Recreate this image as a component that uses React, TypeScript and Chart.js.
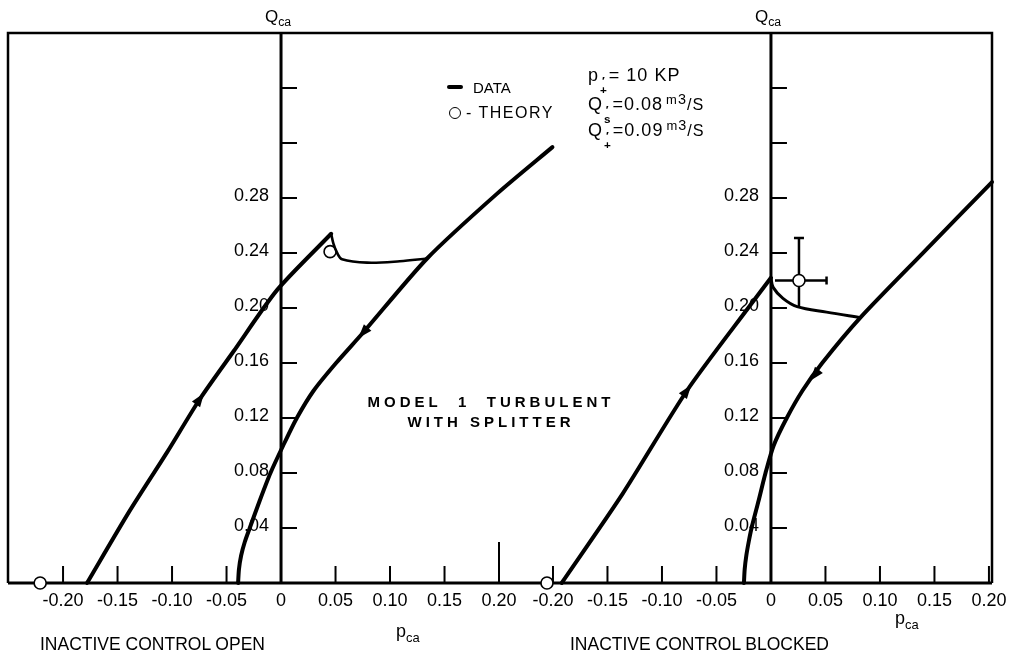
import React, { useEffect, useRef } from "react";
import { Chart, registerables } from "chart.js";

Chart.register(...registerables);

// ---------- Left panel: INACTIVE CONTROL OPEN ----------
const openUpP = [-0.178, -0.14, -0.1046, -0.0743, -0.044, -0.0037, 0.046];
const openUpQ = [0, 0.051, 0.095, 0.134, 0.168, 0.213, 0.254];
const openHookP = [0.046, 0.048, 0.0515, 0.056, 0.079, 0.109, 0.134];
const openHookQ = [0.254, 0.247, 0.24, 0.2355, 0.233, 0.234, 0.236];
const openDownP = [-0.0394, -0.0386, -0.0366, -0.0332, -0.0287, -0.0195, -0.0097, 0.002, 0.0145, 0.03, 0.0505, 0.0752, 0.134, 0.198, 0.249];
const openDownQ = [0, 0.01, 0.02, 0.03, 0.04, 0.06, 0.08, 0.1, 0.12, 0.14, 0.16, 0.182, 0.236, 0.283, 0.317];
const openTheoryP = [-0.221, 0.045];
const openTheoryQ = [0, 0.241];

// ---------- Right panel: INACTIVE CONTROL BLOCKED ----------
const blockedUpP = [-0.192, -0.136, -0.077, -0.019, 0.0];
const blockedUpQ = [0, 0.065, 0.14, 0.202, 0.222];
const blockedHookP = [0.0, 0.002, 0.011, 0.024, 0.051, 0.082];
const blockedHookQ = [0.222, 0.215, 0.207, 0.201, 0.197, 0.193];
const blockedDownP = [-0.0248, -0.0241, -0.0226, -0.0204, -0.0178, -0.0113, -0.005, 0.0025, 0.0145, 0.029, 0.047, 0.082, 0.14, 0.2028];
const blockedDownQ = [0, 0.01, 0.02, 0.03, 0.04, 0.06, 0.08, 0.1, 0.12, 0.14, 0.16, 0.193, 0.2405, 0.2916];
const blockedTheoryP = [-0.2055, 0.0257];
const blockedTheoryQ = [0, 0.22];
// error bars of the blocked theory point (centre = blockedTheory[1])
const blockedErrP = [0.0037, 0.051];
const blockedErrQ = [0.201, 0.251];

// ---------- Direction arrows (on curve, pointing toward second point) ----------
const arrowPanel = ["open", "open", "blocked", "blocked"];
const arrowAtP = [-0.0743, 0.0752, -0.077, 0.04];
const arrowAtQ = [0.134, 0.182, 0.14, 0.151];
const arrowToP = [-0.044, 0.0505, -0.019, 0.029];
const arrowToQ = [0.168, 0.16, 0.202, 0.14];

// ---------- Ticks ----------
const xTickValues = [-0.2, -0.15, -0.1, -0.05, 0, 0.05, 0.1, 0.15, 0.2];
const xTickLabels = ["-0.20", "-0.15", "-0.10", "-0.05", "0", "0.05", "0.10", "0.15", "0.20"];
const yTickValues = [0.04, 0.08, 0.12, 0.16, 0.2, 0.24, 0.28, 0.32, 0.36];
const yTickLabels = ["0.04", "0.08", "0.12", "0.16", "0.20", "0.24", "0.28", "", ""];

const FONT = '"Liberation Sans", Arial, sans-serif';

const pts = (p: number[], q: number[]) => p.map((v, i) => ({ x: v, y: q[i] }));

const curve = (p: number[], q: number[], axis: string, width = 4, tension = 0.25) => ({
  data: pts(p, q),
  xAxisID: axis,
  yAxisID: "y",
  showLine: true,
  borderColor: "#000",
  borderWidth: width,
  pointRadius: 0,
  tension,
  clip: false,
  borderCapStyle: "round",
  borderJoinStyle: "round",
});

const theory = (p: number[], q: number[], axis: string) => ({
  data: pts(p, q),
  xAxisID: axis,
  yAxisID: "y",
  showLine: false,
  pointRadius: 6,
  pointBackgroundColor: "#fff",
  pointBorderColor: "#000",
  pointBorderWidth: 1.6,
  clip: false,
});

const axesPlugin = {
  id: "axesFrame",
  beforeDatasetsDraw(chart: any) {
    const { ctx, chartArea: a, scales } = chart;
    const y = scales.y;
    const y0 = y.getPixelForValue(0);
    ctx.save();
    ctx.strokeStyle = "#000";
    ctx.fillStyle = "#000";
    // outer frame
    ctx.lineWidth = 2.5;
    ctx.beginPath();
    ctx.moveTo(a.left, y0);
    ctx.lineTo(a.left, a.top);
    ctx.lineTo(a.right, a.top);
    ctx.lineTo(a.right, y0);
    ctx.stroke();
    // bottom axis
    ctx.lineWidth = 3;
    ctx.beginPath();
    ctx.moveTo(a.left, y0);
    ctx.lineTo(a.right, y0);
    ctx.stroke();

    ["xL", "xR"].forEach((id) => {
      const s = scales[id];
      const px0 = s.getPixelForValue(0);
      ctx.lineWidth = 3;
      ctx.beginPath();
      ctx.moveTo(px0, y0);
      ctx.lineTo(px0, a.top);
      ctx.stroke();
      // y ticks (inside, to the right)
      ctx.lineWidth = 2;
      ctx.font = "18px " + FONT;
      ctx.textAlign = "right";
      ctx.textBaseline = "middle";
      yTickValues.forEach((v, i) => {
        const py = y.getPixelForValue(v);
        ctx.beginPath();
        ctx.moveTo(px0, py);
        ctx.lineTo(px0 + 16, py);
        ctx.stroke();
        if (yTickLabels[i]) ctx.fillText(yTickLabels[i], px0 - 12, py - 2);
      });
      // x ticks (upward) and labels below
      ctx.textAlign = "center";
      xTickValues.forEach((v, i) => {
        const px = s.getPixelForValue(v);
        if (v !== 0) {
          const len = id === "xL" && v === 0.2 ? 41 : 17;
          ctx.beginPath();
          ctx.moveTo(px, y0);
          ctx.lineTo(px, y0 - len);
          ctx.stroke();
        }
        ctx.fillText(xTickLabels[i], px, y0 + 18);
      });
    });

    // error bars on blocked theory point
    const sx = scales.xR;
    const cx = sx.getPixelForValue(blockedTheoryP[1]);
    const cy = y.getPixelForValue(blockedTheoryQ[1]);
    const xa = sx.getPixelForValue(blockedErrP[0]);
    const xb = sx.getPixelForValue(blockedErrP[1]);
    const ya = y.getPixelForValue(blockedErrQ[0]);
    const yb = y.getPixelForValue(blockedErrQ[1]);
    ctx.lineWidth = 2.5;
    ctx.beginPath();
    ctx.moveTo(cx, ya);
    ctx.lineTo(cx, yb);
    ctx.moveTo(cx - 5, yb);
    ctx.lineTo(cx + 5, yb);
    ctx.moveTo(xa, cy);
    ctx.lineTo(xb, cy);
    ctx.moveTo(xb, cy - 4);
    ctx.lineTo(xb, cy + 4);
    ctx.stroke();
    ctx.restore();
  },
  afterDatasetsDraw(chart: any) {
    const { ctx, scales } = chart;
    const y = scales.y;
    ctx.save();
    ctx.fillStyle = "#000";
    arrowPanel.forEach((panel, i) => {
      const s = panel === "open" ? scales.xL : scales.xR;
      const x1 = s.getPixelForValue(arrowAtP[i]);
      const y1 = y.getPixelForValue(arrowAtQ[i]);
      const x2 = s.getPixelForValue(arrowToP[i]);
      const y2 = y.getPixelForValue(arrowToQ[i]);
      const ang = Math.atan2(y2 - y1, x2 - x1);
      const c = Math.cos(ang), sn = Math.sin(ang);
      const tipX = x1 + c * 7, tipY = y1 + sn * 7;
      const bX = x1 - c * 7, bY = y1 - sn * 7;
      ctx.beginPath();
      ctx.moveTo(tipX, tipY);
      ctx.lineTo(bX - sn * 5, bY + c * 5);
      ctx.lineTo(bX + sn * 5, bY - c * 5);
      ctx.closePath();
      ctx.fill();
    });
    ctx.restore();
  },
};

const txt = (extra: React.CSSProperties): React.CSSProperties => ({
  position: "absolute",
  fontFamily: FONT,
  color: "#000",
  whiteSpace: "nowrap",
  lineHeight: 1,
  ...extra,
});

const sub: React.CSSProperties = { fontSize: "0.72em", verticalAlign: "-0.35em" };

const Stack = ({ top, bottom }: { top: string; bottom: string }) => (
  <span
    style={{
      display: "inline-flex",
      flexDirection: "column",
      fontSize: "0.65em",
      lineHeight: 0.8,
      verticalAlign: "-0.35em",
      margin: "0 1px",
      textAlign: "center",
      fontWeight: 700,
    }}
  >
    <span>{top}</span>
    <span>{bottom}</span>
  </span>
);

const Unit = () => (
  <>
    <span style={{ fontSize: "0.72em", verticalAlign: "0.45em", marginLeft: 3 }}>m</span>
    <span style={{ fontSize: "0.8em", verticalAlign: "0.4em" }}>3</span>
    <span style={{ fontSize: "0.9em" }}>/S</span>
  </>
);

export default function App() {
  const ref = useRef<HTMLCanvasElement | null>(null);

  useEffect(() => {
    if (!ref.current) return;
    const chart = new Chart(ref.current, {
      type: "scatter",
      data: {
        datasets: [
          curve(openUpP, openUpQ, "xL"),
          curve(openHookP, openHookQ, "xL", 2.6, 0.35),
          curve(openDownP, openDownQ, "xL"),
          curve(blockedUpP, blockedUpQ, "xR"),
          curve(blockedHookP, blockedHookQ, "xR", 3, 0.35),
          curve(blockedDownP, blockedDownQ, "xR"),
          theory(openTheoryP, openTheoryQ, "xL"),
          theory(blockedTheoryP, blockedTheoryQ, "xR"),
        ] as any,
      },
      options: {
        animation: false,
        responsive: false,
        events: [],
        layout: { padding: { left: 8, top: 33, right: 18, bottom: 75 } },
        plugins: { legend: { display: false }, tooltip: { enabled: false } },
        scales: {
          xL: { type: "linear", axis: "x", min: -0.2505, max: 0.6523, display: false },
          xR: { type: "linear", axis: "x", min: -0.7, max: 0.2028, display: false },
          y: { type: "linear", axis: "y", min: 0, max: 0.4, display: false },
        } as any,
      },
      plugins: [axesPlugin],
    });
    return () => chart.destroy();
  }, []);

  return (
    <div style={{ position: "absolute", left: 0, top: 0, width: 1010, height: 658, background: "#fff", overflow: "hidden" }}>
      <canvas ref={ref} width={1010} height={658} style={{ position: "absolute", left: 0, top: 0 }} />

      {/* axis titles */}
      <div style={txt({ left: 265, top: 8, fontSize: 17 })}>
        Q<span style={sub}>ca</span>
      </div>
      <div style={txt({ left: 755, top: 8, fontSize: 17 })}>
        Q<span style={sub}>ca</span>
      </div>
      <div style={txt({ left: 396, top: 622, fontSize: 18 })}>
        p<span style={sub}>ca</span>
      </div>
      <div style={txt({ left: 895, top: 609, fontSize: 18 })}>
        p<span style={sub}>ca</span>
      </div>

      {/* panel captions */}
      <div style={txt({ left: 40, top: 636, fontSize: 17.5 })}>INACTIVE CONTROL OPEN</div>
      <div style={txt({ left: 570, top: 636, fontSize: 17.5 })}>INACTIVE CONTROL BLOCKED</div>

      {/* model text */}
      <div style={txt({ left: 291, width: 400, top: 394, fontSize: 15, fontWeight: 700, letterSpacing: 4, textAlign: "center" })}>
        MODEL&nbsp; 1&nbsp; TURBULENT
      </div>
      <div style={txt({ left: 291, width: 400, top: 414, fontSize: 15, fontWeight: 700, letterSpacing: 4, textAlign: "center" })}>
        WITH SPLITTER
      </div>

      {/* legend */}
      <div style={{ position: "absolute", left: 447, top: 85, width: 16, height: 4, background: "#000", borderRadius: 2 }} />
      <div style={txt({ left: 473, top: 80, fontSize: 15 })}>DATA</div>
      <div
        style={{
          position: "absolute",
          left: 449,
          top: 107,
          width: 10,
          height: 10,
          border: "1.5px solid #000",
          borderRadius: "50%",
        }}
      />
      <div style={txt({ left: 466, top: 105, fontSize: 16, letterSpacing: 1.5 })}>- THEORY</div>

      {/* parameters */}
      <div style={txt({ left: 588, top: 66, fontSize: 18, letterSpacing: 1 })}>
        p<Stack top="′" bottom="+" />= 10 KP
      </div>
      <div style={txt({ left: 588, top: 92, fontSize: 18, letterSpacing: 1 })}>
        Q<Stack top="′" bottom="s" />=0.08<Unit />
      </div>
      <div style={txt({ left: 588, top: 118, fontSize: 18, letterSpacing: 1 })}>
        Q<Stack top="′" bottom="+" />=0.09<Unit />
      </div>
    </div>
  );
}
